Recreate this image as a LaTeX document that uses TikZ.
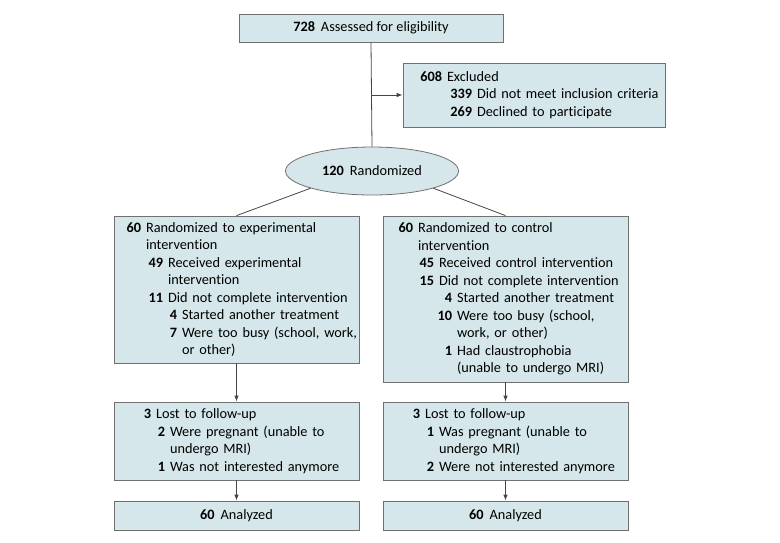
\documentclass[tikz,border=0pt]{standalone}
\usepackage{fontspec}
\setmainfont{Carlito}[Ligatures={NoCommon}]
\usetikzlibrary{arrows.meta,shapes.geometric}
\setlength{\parindent}{0pt}
\definecolor{boxfill}{HTML}{D5E7EA}
\definecolor{boxline}{HTML}{707070}
\definecolor{conn}{HTML}{454545}
\newcommand\crow[3]{\makebox[\hsize][l]{\hspace*{#1pt}\llap{\textbf{#2}\hspace{5pt}}#3}}
\tikzset{
  box/.style={draw=boxline, fill=boxfill, line width=0.8pt, rectangle, inner sep=0pt, align=left},
  cbox/.style={draw=boxline, fill=boxfill, line width=0.8pt, rectangle, inner sep=0pt, align=center},
  conline/.style={draw=conn, line width=0.8pt},
  arr/.style={conline, -{Latex[length=6pt,width=4.5pt]}},
  txt/.style={font=\fontsize{14.3}{17.5}\selectfont}
}
\begin{document}
\begin{tikzpicture}[x=1pt,y=-1pt, every node/.style={txt}]
\useasboundingbox (0,0) rectangle (780,542);
\node[cbox, minimum width=264pt, minimum height=28pt] (top) at (371,28) {\textbf{728}\hspace{6pt}Assessed for eligibility};
\node[box, text width=262pt, minimum height=64pt] (excl) at (534,95) {%
\crow{44}{608}{Excluded}\\
\crow{74}{339}{Did not meet inclusion criteria}\\
\crow{74}{269}{Declined to participate}};
\node[draw=boxline, fill=boxfill, line width=0.8pt, ellipse, inner sep=0pt, minimum width=173pt, minimum height=48pt] (ell) at (372,171) {\textbf{120}\hspace{6pt}Randomized};
\node[box, text width=245pt, minimum height=147pt] (lb1) at (236.5,289.5) {%
\crow{32}{60}{Randomized to experimental}\\
\crow{32}{}{intervention}\\
\crow{54}{49}{Received experimental}\\
\crow{54}{}{intervention}\\
\crow{54}{11}{Did not complete intervention}\\
\crow{68}{4}{Started another treatment}\\
\crow{68}{7}{Were too busy (school, work,}\\
\crow{68}{}{or other)}};
\node[box, text width=245pt, minimum height=166pt] (rb1) at (505.5,299) {%
\crow{35}{60}{Randomized to control}\\
\crow{35}{}{intervention}\\
\crow{56}{45}{Received control intervention}\\
\crow{56}{15}{Did not complete intervention}\\
\crow{74}{4}{Started another treatment}\\
\crow{74}{10}{Were too busy (school,}\\
\crow{74}{}{work, or other)}\\
\crow{74}{1}{Had claustrophobia}\\
\crow{74}{}{(unable to undergo MRI)}};
\node[box, text width=245pt, minimum height=78pt] (lost1) at (236.5,441) {%
\crow{42}{3}{Lost to follow-up}\\
\crow{56}{2}{Were pregnant (unable to}\\
\crow{56}{}{undergo MRI)}\\
\crow{56}{1}{Was not interested anymore}};
\node[box, text width=245pt, minimum height=78pt] (lost2) at (505.5,441) {%
\crow{42}{3}{Lost to follow-up}\\
\crow{56}{1}{Was pregnant (unable to}\\
\crow{56}{}{undergo MRI)}\\
\crow{56}{2}{Were not interested anymore}};
\node[cbox, minimum width=245pt, minimum height=29pt] (an1) at (236.5,515.5) {\textbf{60}\hspace{6pt}Analyzed};
\node[cbox, minimum width=245pt, minimum height=29pt] (an2) at (505.5,515.5) {\textbf{60}\hspace{6pt}Analyzed};
\coordinate (br) at (top.south |- excl.west);
\draw[conline] (top.south) -- (ell.north);
\draw[arr] (br) -- (excl.west);
\draw[conline] (ell.south west) -- (lb1.north);
\draw[conline] (ell.south east) -- (rb1.north);
\draw[arr] (lb1.south) -- (lost1.north);
\draw[arr] (rb1.south) -- (lost2.north);
\draw[arr] (lost1.south) -- (an1.north);
\draw[arr] (lost2.south) -- (an2.north);
\end{tikzpicture}
\end{document}
